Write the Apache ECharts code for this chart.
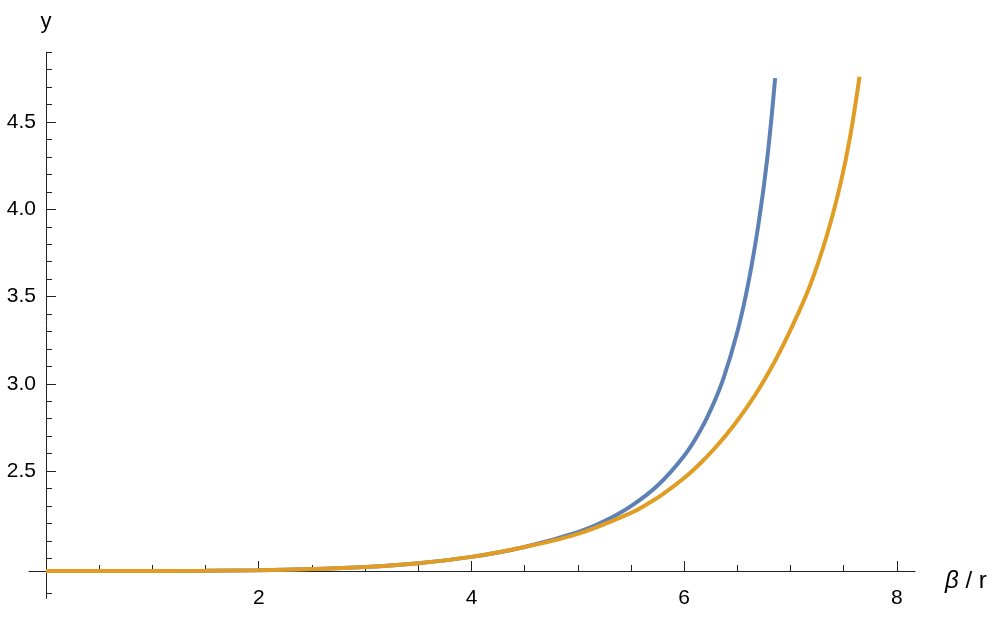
<!DOCTYPE html>
<html>
<head>
<meta charset="utf-8">
<title>y vs beta / r</title>
<script src="https://cdn.jsdelivr.net/npm/echarts@6/dist/echarts.min.js"></script>
<style>
  html, body { margin: 0; padding: 0; background: #fff; }
  #chart { width: 997px; height: 617px; }
</style>
</head>
<body>
<div id="chart"></div>
<script>
// curve values (x = beta / r)
const blueX = [0, 0.5, 1, 1.5, 2, 2.5, 3, 3.5, 4, 4.5, 5, 5.25, 5.5, 5.75, 6, 6.15, 6.26, 6.37, 6.5, 6.6, 6.7, 6.78, 6.855]
const blueY = [1.927, 1.927, 1.927, 1.928, 1.932, 1.938, 1.95, 1.972, 2.008, 2.065, 2.15, 2.213, 2.299, 2.417, 2.588, 2.731, 2.865, 3.033, 3.298, 3.568, 3.922, 4.287, 4.752]

const orangeX = [0, 0.5, 1, 1.5, 2, 2.5, 3, 3.5, 4, 4.5, 5, 5.5, 5.65, 5.8, 6, 6.15, 6.3, 6.46, 6.6, 6.714, 6.85, 7.0, 7.184, 7.341, 7.467, 7.561, 7.648]
const orangeY = [1.927, 1.927, 1.927, 1.928, 1.932, 1.938, 1.95, 1.972, 2.008, 2.065, 2.14, 2.26, 2.31, 2.368, 2.46, 2.543, 2.639, 2.757, 2.875, 2.982, 3.126, 3.309, 3.565, 3.85, 4.14, 4.42, 4.76]

const xMajor = [2, 4, 6, 8]
const xMinor = [0.5, 1, 1.5, 2.5, 3, 3.5, 4.5, 5, 5.5, 6.5, 7, 7.5]
const yMajor = [2.5, 3, 3.5, 4, 4.5]
const yMinor = [1.8, 2, 2.1, 2.2, 2.3, 2.4, 2.6, 2.7, 2.8, 2.9, 3.1, 3.2, 3.3, 3.4, 3.6, 3.7, 3.8, 3.9, 4.1, 4.2, 4.3, 4.4, 4.6, 4.7, 4.8, 4.9]

const zip = (xs, ys) => xs.map((x, i) => [x, ys[i]])

const axisColor = '#222'
const font = 'Liberation Sans, Arial, sans-serif'

const chart = echarts.init(document.getElementById('chart'), null, { renderer: 'canvas' })

// x axis crosses the y axis at the curves' starting value
const xCross = 1.927
const yMin = 1.77
const yMax = 4.9
const gridTop = 52.3
const gridBottom = 598.4
const xAxisOffset = -(gridBottom - gridTop) * (xCross - yMin) / (yMax - yMin)

const baseX = {
  type: 'value',
  min: -0.16,
  max: 8.17,
  position: 'bottom',
  offset: xAxisOffset,
  splitLine: { show: false },
  axisLine: { show: true, onZero: false, lineStyle: { color: axisColor, width: 1 } }
}

const baseY = {
  type: 'value',
  min: yMin,
  max: yMax,
  position: 'left',
  splitLine: { show: false },
  axisLine: { show: true, onZero: true, lineStyle: { color: axisColor, width: 1 } }
}

chart.setOption({
  animation: false,
  backgroundColor: '#fff',
  grid: {
    left: 29,
    right: 82,
    top: gridTop,
    bottom: 617 - gridBottom,
    containLabel: false,
    outerBoundsMode: 'none'
  },
  xAxis: [
    {
      ...baseX,
      name: '{b|β} / r',
      nameLocation: 'end',
      nameGap: 30,
      nameTextStyle: {
        fontFamily: font,
        fontSize: 24,
        color: '#000',
        verticalAlign: 'middle',
        padding: [20, 0, 0, 0],
        rich: { b: { fontFamily: font, fontSize: 24, fontStyle: 'italic', color: '#000' } }
      },
      axisTick: { show: true, inside: true, length: 10, customValues: xMajor, lineStyle: { color: axisColor } },
      axisLabel: { show: true, customValues: xMajor, margin: 17, fontFamily: font, fontSize: 21, color: '#000' }
    },
    {
      ...baseX,
      axisLine: { show: true, onZero: false, lineStyle: { color: axisColor, opacity: 0 } },
      axisTick: { show: true, inside: true, length: 6, customValues: xMinor, lineStyle: { color: axisColor } },
      axisLabel: { show: false }
    }
  ],
  yAxis: [
    {
      ...baseY,
      name: 'y',
      nameLocation: 'end',
      nameGap: 19,
      nameTextStyle: { fontFamily: font, fontSize: 22, color: '#000', align: 'center' },
      axisTick: { show: true, inside: true, length: 10, customValues: yMajor, lineStyle: { color: axisColor } },
      axisLabel: {
        show: true,
        customValues: yMajor,
        margin: -7,
        fontFamily: font,
        fontSize: 21,
        color: '#000',
        formatter: v => v.toFixed(1)
      }
    },
    {
      ...baseY,
      axisLine: { show: true, onZero: true, lineStyle: { color: axisColor, opacity: 0 } },
      axisTick: { show: true, inside: true, length: 6, customValues: yMinor, lineStyle: { color: axisColor } },
      axisLabel: { show: false }
    }
  ],
  series: [
    {
      name: 'blue',
      type: 'line',
      xAxisIndex: 0,
      yAxisIndex: 0,
      data: zip(blueX, blueY),
      showSymbol: false,
      smooth: 0.4,
      lineStyle: { color: '#5e81b5', width: 4 },
      z: 3
    },
    {
      name: 'orange',
      type: 'line',
      xAxisIndex: 0,
      yAxisIndex: 0,
      data: zip(orangeX, orangeY),
      showSymbol: false,
      smooth: 0.4,
      lineStyle: { color: '#e19c24', width: 4 },
      z: 4
    }
  ]
})
</script>
</body>
</html>
